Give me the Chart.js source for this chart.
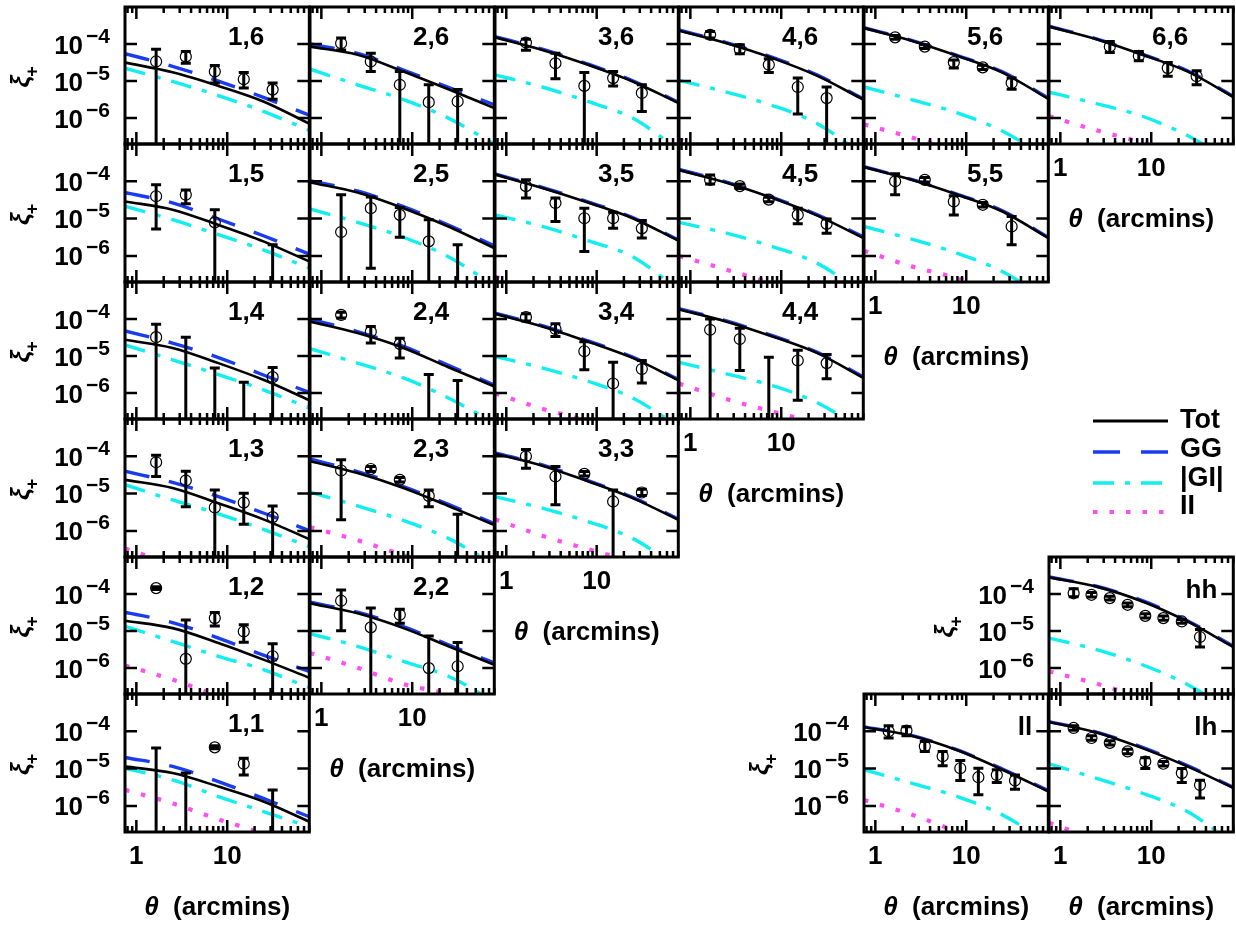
<!DOCTYPE html>
<html lang="en">
<head>
<meta charset="UTF-8">
<title>xi+ tomographic bins</title>
<script src="https://cdn.jsdelivr.net/npm/chart.js"></script>
<style>
  body { margin: 0; background: #fff; }
  #page { position: relative; width: 1236px; height: 928px; overflow: hidden; background: #fff; }
  #page canvas { position: absolute; }
</style>
</head>
<body>
<div id="page"></div>
<script>
// theta values (arcmin)
const thetaModel = [0.75, 2.5, 8, 25, 80];
const thetaBins = [1.65, 3.5, 7.3, 15.2, 31.6];
const thetaFine = [1.4, 2.2, 3.5, 5.5, 8.6, 13.6, 21.7, 34.4];
const xTickLabels = [1, 10];
const yTickExp = [-4, -5, -6];
const xRange = [0.75, 80];
const yRange = [2e-7, 1e-3];

// model curves, log10(xi+) at thetaModel
const logTot = {
  '1,6': [-4.50, -4.76, -5.13, -5.55, -6.15],
  '2,6': [-4.07, -4.29, -4.74, -5.22, -5.73],
  '3,6': [-3.82, -4.16, -4.56, -5.01, -5.59],
  '4,6': [-3.64, -3.98, -4.38, -4.86, -5.50],
  '5,6': [-3.57, -3.91, -4.32, -4.77, -5.48],
  '6,6': [-3.53, -3.87, -4.29, -4.74, -5.43],
  '1,5': [-4.54, -4.76, -5.17, -5.61, -6.15],
  '2,5': [-4.03, -4.30, -4.72, -5.21, -5.79],
  '3,5': [-3.82, -4.18, -4.57, -4.99, -5.59],
  '4,5': [-3.70, -4.04, -4.45, -4.92, -5.52],
  '5,5': [-3.62, -3.96, -4.36, -4.81, -5.52],
  '1,4': [-4.56, -4.78, -5.19, -5.64, -6.19],
  '2,4': [-4.07, -4.38, -4.78, -5.30, -5.82],
  '3,4': [-3.86, -4.20, -4.61, -5.05, -5.65],
  '4,4': [-3.74, -4.07, -4.47, -4.92, -5.59],
  '1,3': [-4.63, -4.85, -5.26, -5.69, -6.22],
  '2,3': [-4.13, -4.45, -4.85, -5.33, -5.84],
  '3,3': [-3.93, -4.25, -4.67, -5.12, -5.70],
  '1,2': [-4.72, -4.92, -5.32, -5.77, -6.26],
  '2,2': [-4.25, -4.52, -4.92, -5.41, -5.91],
  '1,1': [-4.94, -5.12, -5.48, -5.88, -6.42],
  'hh':  [-3.55, -3.80, -4.20, -4.74, -5.43],
  'll':  [-3.89, -4.12, -4.51, -5.03, -5.61],
  'lh':  [-3.75, -4.03, -4.45, -4.94, -5.52]
};
const logGG = {
  '1,6': [-4.26, -4.60, -5.00, -5.44, -5.92],
  '2,6': [-4.00, -4.25, -4.70, -5.17, -5.64],
  '3,6': [-3.80, -4.14, -4.54, -4.99, -5.57],
  '4,6': [-3.62, -3.96, -4.36, -4.84, -5.48],
  '5,6': [-3.56, -3.90, -4.31, -4.75, -5.46],
  '6,6': [-3.52, -3.86, -4.28, -4.72, -5.41],
  '1,5': [-4.30, -4.58, -5.01, -5.46, -5.95],
  '2,5': [-3.98, -4.26, -4.68, -5.17, -5.73],
  '3,5': [-3.80, -4.16, -4.55, -4.97, -5.57],
  '4,5': [-3.68, -4.02, -4.43, -4.90, -5.49],
  '5,5': [-3.61, -3.95, -4.35, -4.79, -5.50],
  '1,4': [-4.32, -4.65, -5.04, -5.51, -5.98],
  '2,4': [-4.00, -4.34, -4.74, -5.25, -5.78],
  '3,4': [-3.84, -4.18, -4.59, -5.03, -5.63],
  '4,4': [-3.72, -4.05, -4.45, -4.90, -5.56],
  '1,3': [-4.40, -4.70, -5.08, -5.52, -5.99],
  '2,3': [-4.07, -4.41, -4.81, -5.29, -5.80],
  '3,3': [-3.91, -4.23, -4.65, -5.10, -5.68],
  '1,2': [-4.49, -4.77, -5.19, -5.65, -6.09],
  '2,2': [-4.22, -4.49, -4.88, -5.37, -5.86],
  '1,1': [-4.70, -4.94, -5.35, -5.80, -6.29],
  'hh':  [-3.54, -3.79, -4.18, -4.72, -5.41],
  'll':  [-3.88, -4.11, -4.50, -5.01, -5.59],
  'lh':  [-3.74, -4.02, -4.43, -4.92, -5.50]
};
const logGI = {
  '1,6': [-4.65, -5.01, -5.39, -5.82, -6.33],
  '2,6': [-4.68, -5.10, -5.50, -6.00, -6.70],
  '3,6': [-4.83, -5.16, -5.55, -6.00, -6.85],
  '4,6': [-4.98, -5.30, -5.66, -6.15, -7.00],
  '5,6': [-5.16, -5.50, -5.86, -6.35, -7.10],
  '6,6': [-5.30, -5.61, -5.95, -6.47, -7.20],
  '1,5': [-4.67, -5.03, -5.43, -5.84, -6.33],
  '2,5': [-4.74, -5.10, -5.50, -6.02, -6.80],
  '3,5': [-4.90, -5.21, -5.59, -6.02, -6.90],
  '4,5': [-5.10, -5.39, -5.75, -6.20, -7.00],
  '5,5': [-5.21, -5.55, -5.93, -6.42, -7.20],
  '1,4': [-4.70, -5.10, -5.50, -5.91, -6.40],
  '2,4': [-4.80, -5.19, -5.59, -6.13, -6.80],
  '3,4': [-5.01, -5.32, -5.68, -6.13, -6.90],
  '4,4': [-5.17, -5.48, -5.80, -6.26, -7.00],
  '1,3': [-4.76, -5.17, -5.54, -5.96, -6.42],
  '2,3': [-4.96, -5.33, -5.72, -6.20, -6.90],
  '3,3': [-5.08, -5.39, -5.75, -6.20, -7.00],
  '1,2': [-4.87, -5.28, -5.68, -6.04, -6.53],
  '2,2': [-5.07, -5.41, -5.82, -6.22, -6.90],
  '1,1': [-4.99, -5.30, -5.75, -6.15, -6.56],
  'hh':  [-5.19, -5.50, -5.91, -6.44, -7.20],
  'll':  [-5.03, -5.39, -5.75, -6.24, -7.00],
  'lh':  [-4.87, -5.26, -5.66, -6.15, -7.00]
};
const logII = {
  '4,6': [-6.58, -6.95, -7.30, -7.70, -8.10],
  '5,6': [-6.17, -6.52, -6.90, -7.30, -7.70],
  '6,6': [-5.95, -6.33, -6.67, -7.10, -7.60],
  '3,5': [-6.56, -7.00, -7.40, -7.80, -8.20],
  '4,5': [-6.00, -6.37, -6.74, -7.15, -7.60],
  '5,5': [-5.86, -6.28, -6.60, -7.00, -7.50],
  '3,4': [-6.01, -6.42, -6.76, -7.20, -7.70],
  '4,4': [-5.74, -6.16, -6.50, -6.82, -7.30],
  '1,3': [-6.47, -6.90, -7.30, -7.70, -8.10],
  '2,3': [-5.90, -6.25, -6.65, -7.00, -7.50],
  '3,3': [-5.69, -6.13, -6.49, -6.83, -7.30],
  '1,2': [-5.93, -6.31, -6.76, -7.20, -7.70],
  '2,2': [-5.59, -5.99, -6.43, -6.71, -7.20],
  '1,1': [-5.57, -5.93, -6.36, -6.74, -7.20],
  'hh':  [-6.09, -6.42, -6.80, -7.20, -7.70],
  'll':  [-5.84, -6.23, -6.69, -7.10, -7.60],
  'lh':  [-6.45, -6.90, -7.30, -7.70, -8.10]
};

// measurements: [log10 value, log10 lower, log10 upper]; null value = no symbol, null lower = bar runs off the axis
const measured = {
  '1,6': [[-4.47, null, -4.14], [-4.34, -4.52, -4.20], [-4.74, -5.05, -4.58], [-4.95, -5.19, -4.77], [-5.23, -5.49, -5.05]],
  '2,6': [[-3.98, -4.16, -3.84], [-4.47, -4.74, -4.25], [-5.10, null, -4.74], [-5.57, null, -5.10], [-5.55, null, -5.23]],
  '3,6': [[-3.96, -4.17, -3.87], [-4.52, -4.94, -4.25], [-5.13, null, -4.77], [-4.92, -5.13, -4.74], [-5.32, -5.82, -5.10]],
  '4,6': [[-3.75, -3.84, -3.66], [-4.14, -4.26, -4.02], [-4.56, -4.77, -4.40], [-5.16, -5.89, -4.92], [-5.46, null, -5.16]],
  '5,6': [[-3.82, -3.87, -3.77], [-4.07, -4.12, -4.02], [-4.49, -4.65, -4.43], [-4.63, -4.69, -4.57], [-5.05, -5.22, -4.92]],
  '6,6': [null, [-4.07, -4.23, -3.93], [-4.32, -4.45, -4.20], [-4.65, -4.87, -4.50], [-4.87, -5.10, -4.72]],
  '1,5': [[-4.40, -5.28, -4.09], [-4.36, -4.60, -4.23], [-5.10, null, -4.76], null, [null, null, -5.70]],
  '2,5': [[-5.36, null, -4.36], [-4.72, -6.33, -4.42], [-4.90, -5.50, -4.70], [-5.61, null, -5.03], [null, null, -5.70]],
  '3,5': [[-4.13, -4.45, -3.96], [-4.58, -5.08, -4.45], [-4.99, -5.88, -4.72], [-4.99, -5.26, -4.83], [-5.26, -5.52, -5.05]],
  '4,5': [[-3.96, -4.07, -3.83], [-4.13, -4.19, -4.07], [-4.49, -4.55, -4.43], [-4.90, -5.14, -4.72], [-5.14, -5.39, -5.01]],
  '5,5': [[-4.00, -4.36, -3.80], [-3.96, -4.02, -3.90], [-4.54, -4.90, -4.39], [-4.63, -4.69, -4.57], [-5.21, -5.70, -4.94]],
  '1,4': [[-4.49, null, -4.14], [null, null, -4.49], [null, null, -5.32], [null, null, -5.71], [-5.57, null, -5.31]],
  '2,4': [[-3.89, -3.97, -3.82], [-4.34, -4.65, -4.20], [-4.67, -5.05, -4.52], [null, null, -5.50], [null, null, -5.66]],
  '3,4': [[-3.95, -4.05, -3.86], [-4.27, -4.47, -4.13], [-4.87, -5.37, -4.61], [-5.74, null, -5.17], [-5.35, -5.73, -5.12]],
  '4,4': [[-4.29, null, -4.00], [-4.54, -5.39, -4.25], [null, null, -5.03], [-5.12, -6.19, -4.84], [-5.19, -5.61, -4.96]],
  '1,3': [[-4.16, -4.54, -3.97], [-4.65, -5.35, -4.40], [-5.37, null, -4.90], [-5.24, -5.82, -4.99], [-5.63, null, -5.33]],
  '2,3': [[-4.38, -5.70, -4.09], [-4.34, -4.41, -4.27], [-4.63, -4.69, -4.57], [-5.06, -5.35, -4.90], [null, null, -5.55]],
  '3,3': [[-4.00, -4.32, -3.82], [-4.54, -5.30, -4.27], [-4.47, -4.53, -4.41], [-5.21, null, -4.90], [-4.97, -5.05, -4.88]],
  '1,2': [[-3.84, -3.88, -3.80], [-5.75, null, -4.70], [-4.65, -4.86, -4.50], [-5.01, -5.30, -4.83], [-5.68, null, -5.34]],
  '2,2': [[-4.18, -4.99, -3.89], [-4.90, null, -4.38], [-4.56, -4.79, -4.41], [-6.00, null, -5.13], [-5.95, null, -5.31]],
  '1,1': [[null, null, -4.45], [null, null, -5.12], [-4.43, -4.47, -4.39], [-4.87, -5.17, -4.72], [null, null, -5.57]],
  'hh':  [[-3.98, -4.07, -3.86], [-4.02, -4.08, -3.96], [-4.11, -4.16, -4.06], [-4.29, -4.34, -4.24],
          [-4.59, -4.65, -4.53], [-4.65, -4.71, -4.59], [-4.74, -4.79, -4.69], [-5.16, -5.43, -4.96]],
  'll':  [[-4.00, -4.18, -3.85], [-3.98, -4.12, -3.88], [-4.40, -4.54, -4.27], [-4.67, -4.92, -4.54],
          [-4.99, -5.32, -4.78], [-5.23, -5.70, -4.99], [-5.17, -5.37, -5.03], [-5.32, -5.55, -5.17]],
  'lh':  [[-3.91, -3.97, -3.85], [-4.18, -4.24, -4.12], [-4.31, -4.37, -4.25], [-4.54, -4.60, -4.48],
          [-4.81, -5.00, -4.71], [-4.87, -4.93, -4.81], [-5.12, -5.37, -5.00], [-5.44, -5.79, -5.31]]
};

const legendNames = ['Tot', 'GG', '|GI|', 'II'];

// ---- layout ----
const colX = [125, 310, 495, 679, 864, 1049, 1234];
const rowY = [7, 144, 282, 419, 557, 694, 832];
const PAD = { left: 130, top: 10, right: 6, bottom: 110 };
const FONT = "'Liberation Sans', Arial, sans-serif";
const STY = {
  tot: { color: '#000000', width: 2.6, dash: [] },
  gg:  { color: '#1a3cf0', width: 3.4, dash: [25, 20] },
  gi:  { color: '#10eef0', width: 3.4, dash: [21, 11, 5, 11] },
  ii:  { color: '#ff4ff2', width: 4.2, dash: [4.5, 12] }
};

const panels = [];
for (let j = 6; j >= 1; j--) {
  for (let i = 1; i <= j; i++) {
    panels.push({ name: i + ',' + j, col: i - 1, row: 6 - j, yLab: i === 1, xLab: i === j, corner: false });
  }
}
panels.push({ name: 'hh', col: 5, row: 4, yLab: true, xLab: false, corner: true });
panels.push({ name: 'll', col: 4, row: 5, yLab: true, xLab: true, corner: true });
panels.push({ name: 'lh', col: 5, row: 5, yLab: false, xLab: true, corner: true });

const page = document.getElementById('page');

function decor(p, theta) {
  return {
    id: 'decor',
    afterDatasetsDraw(chart) {
      const { ctx, chartArea: a, scales: { x, y } } = chart;
      ctx.save();
      ctx.beginPath();
      ctx.rect(a.left, a.top, a.right - a.left, a.bottom - a.top);
      ctx.clip();
      ctx.strokeStyle = '#000';
      ctx.lineWidth = 3;
      measured[p.name].forEach((m, k) => {
        if (!m) return;
        const px = x.getPixelForValue(theta[k]);
        const yHi = y.getPixelForValue(Math.pow(10, m[2]));
        const yLo = m[1] === null ? a.bottom + 6 : y.getPixelForValue(Math.pow(10, m[1]));
        ctx.beginPath();
        ctx.moveTo(px, yLo); ctx.lineTo(px, yHi);
        ctx.moveTo(px - 5, yHi); ctx.lineTo(px + 5, yHi);
        if (m[1] !== null) { ctx.moveTo(px - 5, yLo); ctx.lineTo(px + 5, yLo); }
        ctx.stroke();
      });
      ctx.restore();
    },
    afterDraw(chart) {
      const { ctx, chartArea: a, scales: { x, y } } = chart;
      ctx.save();
      ctx.strokeStyle = '#000';
      ctx.fillStyle = '#000';
      // ticks, pointing inward on all four sides
      ctx.lineWidth = 2.5;
      ctx.beginPath();
      for (let d = -1; d <= 1; d++) {
        for (let m = 1; m <= 9; m++) {
          const v = m * Math.pow(10, d);
          if (v < xRange[0] || v > xRange[1]) continue;
          const px = x.getPixelForValue(v);
          const len = m === 1 ? 12 : 6;
          ctx.moveTo(px, a.bottom); ctx.lineTo(px, a.bottom - len);
          ctx.moveTo(px, a.top); ctx.lineTo(px, a.top + len);
        }
      }
      yTickExp.forEach(e => {
        const py = y.getPixelForValue(Math.pow(10, e));
        ctx.moveTo(a.left, py); ctx.lineTo(a.left + 12, py);
        ctx.moveTo(a.right, py); ctx.lineTo(a.right - 12, py);
      });
      ctx.stroke();
      // frame
      ctx.lineWidth = 3;
      ctx.strokeRect(a.left, a.top, a.right - a.left, a.bottom - a.top);

      // panel name
      ctx.font = 'bold 26px ' + FONT;
      ctx.textBaseline = 'alphabetic';
      if (p.corner) {
        ctx.textAlign = 'right';
        ctx.fillText(p.name, a.right - 16, a.top + 41);
      } else {
        ctx.textAlign = 'left';
        ctx.fillText(p.name, a.left + 103, a.top + 38);
      }

      if (p.yLab) {
        yTickExp.forEach(e => {
          const py = y.getPixelForValue(Math.pow(10, e));
          const sup = '\u2212' + (-e);
          ctx.textAlign = 'right';
          ctx.font = 'bold 21px ' + FONT;
          const supW = ctx.measureText(sup).width;
          ctx.fillText(sup, a.left - 15, py - 1.5);
          ctx.font = 'bold 26px ' + FONT;
          ctx.fillText('10', a.left - 18 - supW, py + 9.5);
        });
        ctx.save();
        ctx.translate(a.left - 96, (a.top + a.bottom) / 2);
        ctx.rotate(-Math.PI / 2);
        ctx.textAlign = 'left';
        ctx.font = 'italic bold 26px ' + FONT;
        ctx.fillText('\u03BE', -12, 0);
        const w = ctx.measureText('\u03BE').width;
        ctx.font = 'bold 18px ' + FONT;
        ctx.fillText('+', -13 + w, 9);
        ctx.restore();
      }

      if (p.xLab) {
        ctx.font = 'bold 26px ' + FONT;
        ctx.textAlign = 'center';
        xTickLabels.forEach(v => ctx.fillText(String(v), x.getPixelForValue(v), a.bottom + 32));
        const cx = (a.left + a.right) / 2;
        const by = a.bottom + 83;
        ctx.font = 'italic bold 26px ' + FONT;
        const w1 = ctx.measureText('\u03B8').width;
        ctx.font = 'bold 26px ' + FONT;
        const rest = '  (arcmins)';
        const w2 = ctx.measureText(rest).width;
        const sx = cx - (w1 + w2) / 2;
        ctx.textAlign = 'left';
        ctx.font = 'italic bold 26px ' + FONT;
        ctx.fillText('\u03B8', sx, by);
        ctx.font = 'bold 26px ' + FONT;
        ctx.fillText(rest, sx + w1, by);
      }
      ctx.restore();
    }
  };
}

function curve(arr, sty) {
  return {
    type: 'line',
    data: thetaModel.map((t, k) => ({ x: t, y: Math.pow(10, arr[k]) })),
    borderColor: sty.color,
    borderWidth: sty.width,
    borderDash: sty.dash,
    borderCapStyle: 'butt',
    pointRadius: 0,
    fill: false,
    cubicInterpolationMode: 'monotone'
  };
}

panels.forEach(p => {
  const L = colX[p.col], R = colX[p.col + 1], T = rowY[p.row], B = rowY[p.row + 1];
  const cv = document.createElement('canvas');
  cv.width = R - L + PAD.left + PAD.right;
  cv.height = B - T + PAD.top + PAD.bottom;
  cv.style.left = (L - PAD.left) + 'px';
  cv.style.top = (T - PAD.top) + 'px';
  page.appendChild(cv);

  const theta = p.corner ? thetaFine : thetaBins;
  const pts = [];
  measured[p.name].forEach((m, k) => {
    if (m && m[0] !== null) pts.push({ x: theta[k], y: Math.pow(10, m[0]) });
  });

  const datasets = [{
    type: 'scatter',
    data: pts,
    pointStyle: 'circle',
    pointRadius: 5.5,
    pointBorderWidth: 1.2,
    pointBorderColor: '#000',
    pointBackgroundColor: 'rgba(0,0,0,0)',
    showLine: false
  }];
  datasets.push(curve(logTot[p.name], STY.tot));
  datasets.push(curve(logGG[p.name], STY.gg));
  datasets.push(curve(logGI[p.name], STY.gi));
  if (logII[p.name]) datasets.push(curve(logII[p.name], STY.ii));

  new Chart(cv, {
    type: 'scatter',
    data: { datasets },
    options: {
      responsive: false,
      animation: false,
      devicePixelRatio: 1,
      events: [],
      layout: { padding: { left: PAD.left, top: PAD.top, right: PAD.right, bottom: PAD.bottom } },
      plugins: { legend: { display: false }, tooltip: { enabled: false } },
      scales: {
        x: { type: 'logarithmic', min: xRange[0], max: xRange[1], display: false },
        y: { type: 'logarithmic', min: yRange[0], max: yRange[1], display: false }
      }
    },
    plugins: [decor(p, theta)]
  });
});

// legend
(function () {
  const cv = document.createElement('canvas');
  cv.width = 150; cv.height = 130;
  cv.style.left = '1086px'; cv.style.top = '398px';
  page.appendChild(cv);
  const ctx = cv.getContext('2d');
  const styles = [STY.tot, STY.gg, STY.gi, STY.ii];
  const lineY = [23, 54, 85, 114];
  const textY = [30, 59, 88, 116];
  styles.forEach((s, k) => {
    ctx.beginPath();
    ctx.strokeStyle = s.color;
    ctx.lineWidth = k === 0 ? 3 : s.width;
    ctx.setLineDash(k === 1 ? [27, 21] : s.dash);
    ctx.moveTo(7, lineY[k]);
    ctx.lineTo(82, lineY[k]);
    ctx.stroke();
  });
  ctx.setLineDash([]);
  ctx.fillStyle = '#000';
  ctx.font = 'bold 27px ' + FONT;
  ctx.textAlign = 'left';
  legendNames.forEach((t, k) => ctx.fillText(t, 94, textY[k]));
})();
</script>
</body>
</html>
